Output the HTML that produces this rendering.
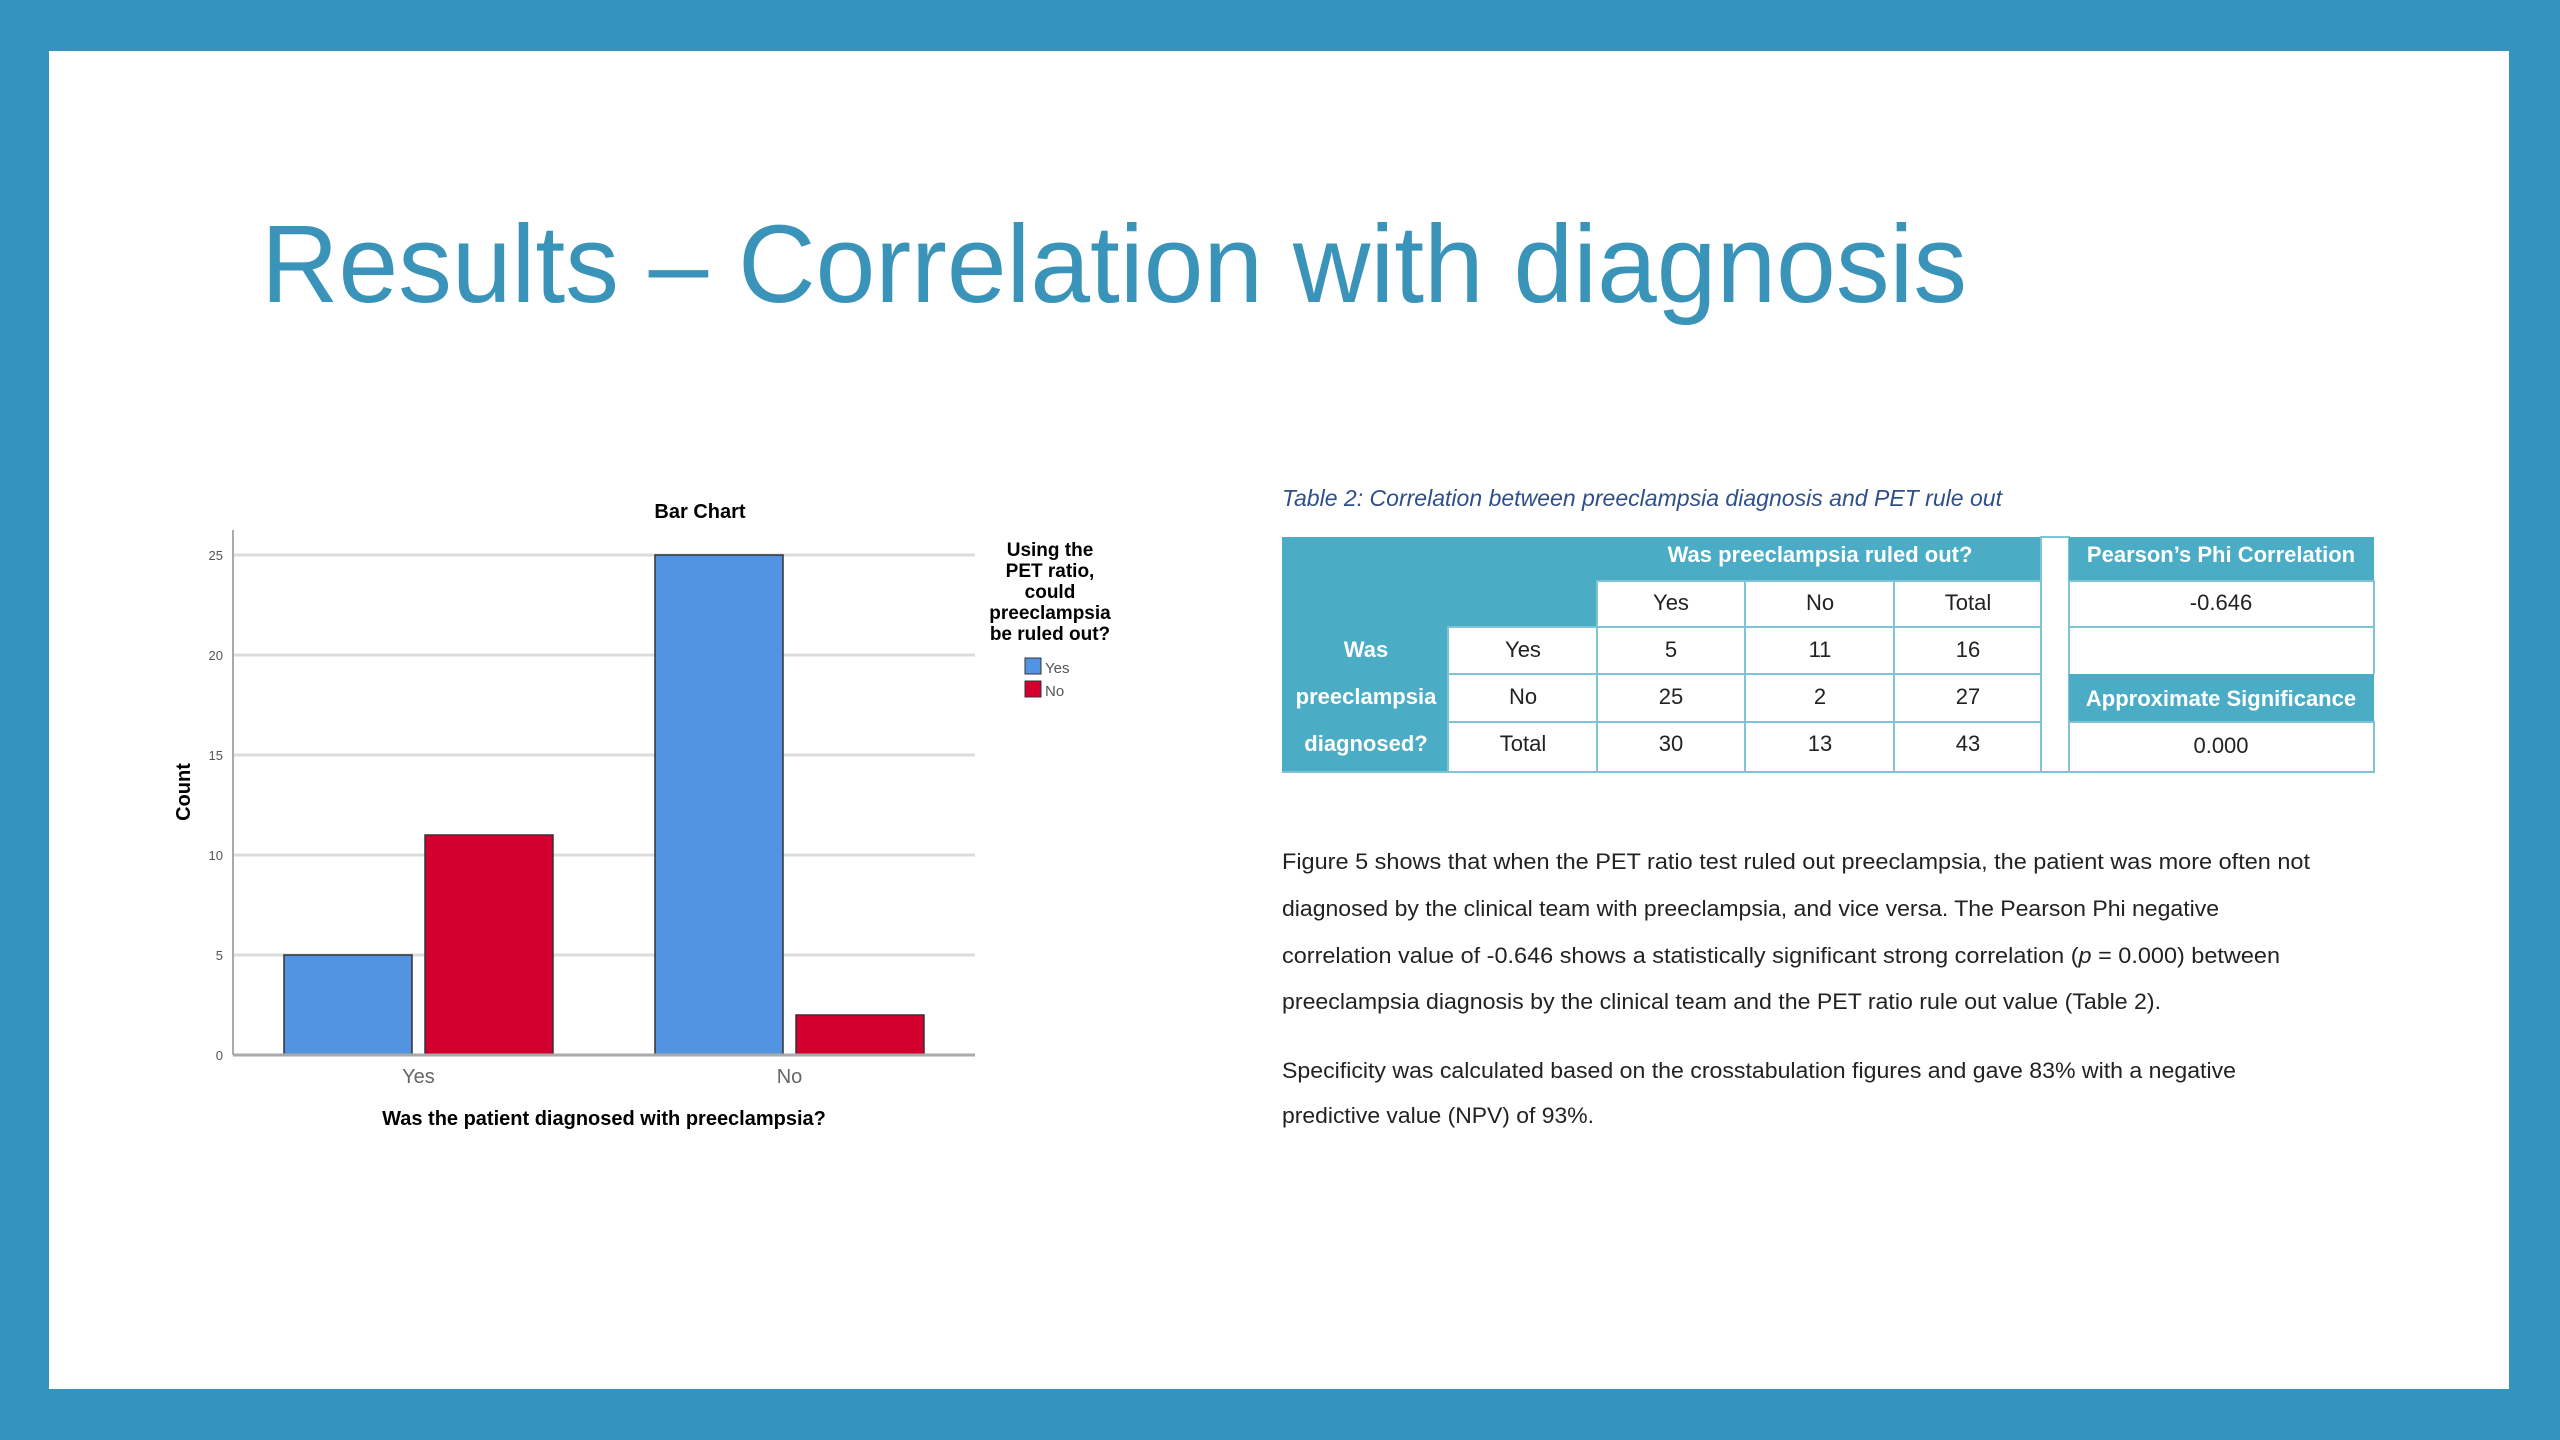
<!DOCTYPE html>
<html><head><meta charset="utf-8"><style>
html,body{margin:0;padding:0;background:#3594bd;}
svg{display:block;font-family:"Liberation Sans",sans-serif;}
</style></head><body>
<svg id="root" width="2560" height="1440" viewBox="0 0 2560 1440">
<rect x="0" y="0" width="2560" height="1440" fill="#3594bd"/>
<rect x="49" y="51" width="2460" height="1338" fill="#ffffff"/>
<text x="261" y="302" font-size="110" fill="#3a93b8" textLength="1706" lengthAdjust="spacingAndGlyphs">Results – Correlation with diagnosis</text>

<g id="chart">
<text x="700" y="518" font-size="20" font-weight="bold" text-anchor="middle">Bar Chart</text>
<text transform="translate(190,792) rotate(-90)" font-size="20" font-weight="bold" text-anchor="middle">Count</text>
<text x="604" y="1125" font-size="20" font-weight="bold" text-anchor="middle">Was the patient diagnosed with preeclampsia?</text>
<g font-size="19" font-weight="bold" text-anchor="middle">
<text x="1050" y="556">Using the</text>
<text x="1050" y="577">PET ratio,</text>
<text x="1050" y="598">could</text>
<text x="1050" y="619">preeclampsia</text>
<text x="1050" y="640">be ruled out?</text>
</g>
</g>

<g font-size="22" text-anchor="middle">
<text x="1282" y="506" font-size="23" font-style="italic" fill="#2f4f8a" text-anchor="start" textLength="720" lengthAdjust="spacingAndGlyphs">Table 2: Correlation between preeclampsia diagnosis and PET rule out</text>
<!-- coloured blocks -->
<rect x="1282" y="537" width="759" height="44" fill="#4bacc6"/>
<rect x="1282" y="581" width="315" height="46" fill="#4bacc6"/>
<rect x="1282" y="627" width="166" height="145" fill="#4bacc6"/>
<rect x="2041" y="537" width="28" height="235" fill="#ffffff" stroke="#7fc3d6" stroke-width="2"/>
<rect x="2069" y="537" width="305" height="44" fill="#4bacc6"/>
<rect x="2069" y="674" width="305" height="48" fill="#4bacc6"/>
<g stroke="#7fc3d6" stroke-width="2" fill="none">
<rect x="1448" y="627" width="149" height="145"/>
<rect x="1597" y="581" width="444" height="191"/>
<line x1="1745" y1="581" x2="1745" y2="772"/><line x1="1894" y1="581" x2="1894" y2="772"/>
<line x1="1448" y1="674" x2="2041" y2="674"/><line x1="1448" y1="722" x2="2041" y2="722"/>
<line x1="1597" y1="627" x2="2041" y2="627"/>
<rect x="2069" y="581" width="305" height="46"/>
<rect x="2069" y="722" width="305" height="50"/>
<line x1="2374" y1="581" x2="2374" y2="674"/>
<line x1="1282" y1="772" x2="1448" y2="772"/>
</g>
<g fill="#ffffff" font-weight="bold">
<text x="1820" y="562">Was preeclampsia ruled out?</text>
<text x="2221" y="562">Pearson’s Phi Correlation</text>
<text x="2221" y="706">Approximate Significance</text>
<text x="1366" y="657">Was</text>
<text x="1366" y="704">preeclampsia</text>
<text x="1366" y="751">diagnosed?</text>
</g>
<g fill="#222">
<text x="1671" y="610">Yes</text><text x="1820" y="610">No</text><text x="1968" y="610">Total</text>
<text x="1523" y="657">Yes</text><text x="1671" y="657">5</text><text x="1820" y="657">11</text><text x="1968" y="657">16</text>
<text x="1523" y="704">No</text><text x="1671" y="704">25</text><text x="1820" y="704">2</text><text x="1968" y="704">27</text>
<text x="1523" y="751">Total</text><text x="1671" y="751">30</text><text x="1820" y="751">13</text><text x="1968" y="751">43</text>
<text x="2221" y="610">-0.646</text>
<text x="2221" y="753">0.000</text>
</g>
</g>

<g font-size="22" fill="#222">
<text x="1282" y="869" textLength="1028" lengthAdjust="spacingAndGlyphs">Figure 5 shows that when the PET ratio test ruled out preeclampsia, the patient was more often not</text>
<text x="1282" y="916" textLength="937" lengthAdjust="spacingAndGlyphs">diagnosed by the clinical team with preeclampsia, and vice versa. The Pearson Phi negative</text>
<text x="1282" y="963" textLength="998" lengthAdjust="spacingAndGlyphs">correlation value of -0.646 shows a statistically significant strong correlation (<tspan font-style="italic">p</tspan> = 0.000) between</text>
<text x="1282" y="1009" textLength="879" lengthAdjust="spacingAndGlyphs">preeclampsia diagnosis by the clinical team and the PET ratio rule out value (Table 2).</text>
<text x="1282" y="1078" textLength="954" lengthAdjust="spacingAndGlyphs">Specificity was calculated based on the crosstabulation figures and gave 83% with a negative</text>
<text x="1282" y="1123" textLength="312" lengthAdjust="spacingAndGlyphs">predictive value (NPV) of 93%.</text>
</g>
</svg>
<script>
const categories = ["Yes", "No"];
const seriesNames = ["Yes", "No"];
const seriesYes = [5, 25];
const seriesNo = [11, 2];
const yTicks = [0, 5, 10, 15, 20, 25];
const NS = "http://www.w3.org/2000/svg";
const chart = document.getElementById("chart");
const x0 = 233, x1 = 975, yBase = 1055, yTop = 555, yMax = 25;
const colors = ["#5294e2", "#d3002f"];
function yScale(v){ return yBase - (v / yMax) * (yBase - yTop); }
const groupW = (x1 - x0) / categories.length;
const barW = 128, gap = 13;
function barX(ci, si){ const c = x0 + groupW * (ci + 0.5); return c - barW - gap/2 + si * (barW + gap); }
function mk(tag, attrs){ const e = document.createElementNS(NS, tag); for (const k in attrs) e.setAttribute(k, attrs[k]); return e; }
yTicks.forEach(t => {
  const y = yScale(t);
  if (t > 0) {
    const g = mk("line", {x1: x0, x2: x1, y1: y, y2: y, stroke: "#dcdcdc", "stroke-width": 3});
    
    
    chart.appendChild(g);
  }
  const tl = mk("text", {x: x0 - 10, y: y + 5, "font-size": 13, fill: "#555", "text-anchor": "end"});
  tl.textContent = t;
  
  
  chart.appendChild(tl);
});
const yAxis = mk("line", {x1: x0, x2: x0, y1: 530, y2: yBase, stroke: "#aaa", "stroke-width": 2});


chart.appendChild(yAxis);
[seriesYes, seriesNo].forEach((vals, si) => {
  vals.forEach((v, ci) => {
    const r = mk("rect", {x: barX(ci, si), y: yScale(v), width: barW, height: yBase - yScale(v), fill: colors[si], stroke: "#333", "stroke-width": 1.5});
    
    
    chart.appendChild(r);
  });
});
const xAxis = mk("line", {x1: x0, x2: x1, y1: yBase, y2: yBase, stroke: "#aaa", "stroke-width": 3});


chart.appendChild(xAxis);
categories.forEach((c, ci) => {
  const t = mk("text", {x: x0 + groupW * (ci + 0.5), y: 1083, "font-size": 20, fill: "#666", "text-anchor": "middle"});
  t.textContent = c;
  
  
  chart.appendChild(t);
});
seriesNames.forEach((n, si) => {
  const sw = mk("rect", {x: 1025, y: 658 + si * 23, width: 16, height: 16, fill: colors[si], stroke: "#333", "stroke-width": 1});
  
  
  chart.appendChild(sw);
  const lt = mk("text", {x: 1045, y: 673 + si * 23, "font-size": 15, fill: "#555"});
  lt.textContent = n;
  
  
  chart.appendChild(lt);
});
</script>
</body></html>
